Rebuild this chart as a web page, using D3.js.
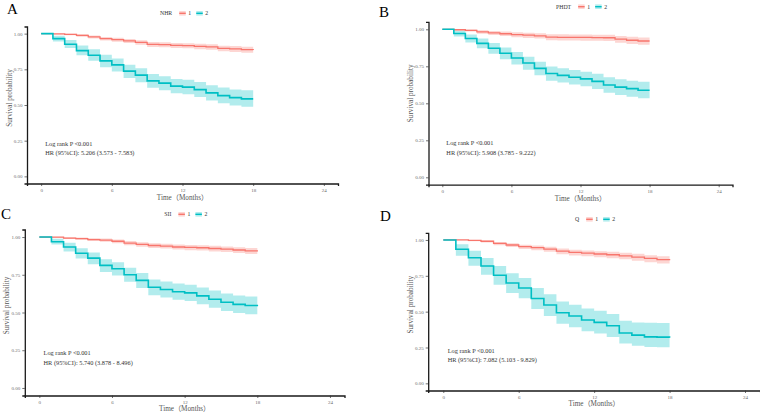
<!DOCTYPE html>
<html><head><meta charset="utf-8">
<script src="https://cdn.jsdelivr.net/npm/d3@7/dist/d3.min.js"></script>
<style>
html,body{margin:0;padding:0;background:#fff;}
svg{display:block;}
</style></head>
<body>
<svg id="chart" width="760" height="413"></svg>
<script>
// ---------------- DATA ----------------
const months = [0,1,2,3,4,5,6,7,8,9,10,11,12,13,14,15,16,17,18];
const xTicks = [0,6,12,18,24];
const yTicks = [0,0.25,0.5,0.75,1];
const yTickLabels = ["0.00","0.25","0.50","0.75","1.00"];
const panelLetters = ["A","B","C","D"];
const groupNames = ["NHR","PHDT","SII","Q"];
const strataLabels = ["1","2"];
const logRankTexts = ["Log rank P <0.001","Log rank P <0.001","Log rank P <0.001","Log rank P <0.001"];
const hrTexts = [
  "HR (95%CI): 5.206 (3.573 - 7.583)",
  "HR (95%CI): 5.908 (3.785 - 9.222)",
  "HR (95%CI): 5.740 (3.878 - 8.496)",
  "HR (95%CI): 7.082 (5.103 - 9.829)"
];
const xTitle = "Time（Months）";
const yTitle = "Survival probability";

// Panel A: NHR
const nhrSurv1 = [1,0.998,0.995,0.988,0.977,0.965,0.958,0.949,0.939,0.925,0.923,0.918,0.916,0.911,0.907,0.897,0.893,0.888,0.886];
const nhrUp1   = [1,1.0,0.999,0.995,0.987,0.977,0.971,0.963,0.954,0.941,0.939,0.935,0.933,0.929,0.925,0.916,0.913,0.908,0.907];
const nhrLow1  = [1,0.994,0.989,0.979,0.966,0.952,0.944,0.934,0.922,0.907,0.905,0.899,0.897,0.891,0.887,0.876,0.871,0.866,0.864];
const nhrSurv2 = [1,0.965,0.926,0.881,0.849,0.809,0.781,0.737,0.709,0.669,0.653,0.632,0.625,0.608,0.585,0.566,0.552,0.543,0.543];
const nhrUp2   = [1,0.985,0.955,0.917,0.89,0.852,0.825,0.782,0.757,0.717,0.702,0.683,0.677,0.662,0.638,0.622,0.608,0.603,0.603];
const nhrLow2  = [1,0.945,0.9,0.848,0.81,0.765,0.735,0.69,0.66,0.62,0.604,0.583,0.575,0.556,0.532,0.512,0.497,0.488,0.488];

// Panel B: PHDT
const phdtSurv1 = [1,0.997,0.993,0.982,0.976,0.970,0.964,0.960,0.956,0.947,0.946,0.945,0.945,0.944,0.943,0.933,0.926,0.921,0.921];
const phdtUp1   = [1,1,0.999,0.993,0.989,0.985,0.98,0.977,0.974,0.966,0.966,0.965,0.965,0.964,0.963,0.955,0.949,0.945,0.945];
const phdtLow1  = [1,0.992,0.985,0.97,0.962,0.954,0.947,0.942,0.937,0.926,0.925,0.924,0.923,0.922,0.921,0.909,0.901,0.895,0.895];
const phdtSurv2 = [1,0.972,0.938,0.905,0.872,0.838,0.806,0.772,0.736,0.701,0.689,0.676,0.665,0.648,0.624,0.609,0.599,0.588,0.588];
const phdtUp2   = [1,0.99,0.965,0.937,0.908,0.877,0.847,0.815,0.781,0.748,0.737,0.725,0.714,0.699,0.676,0.662,0.653,0.645,0.645];
const phdtLow2  = [1,0.952,0.91,0.872,0.835,0.797,0.763,0.727,0.69,0.653,0.641,0.627,0.615,0.597,0.572,0.556,0.545,0.534,0.534];

// Panel C: SII
const siiSurv1 = [1,0.999,0.993,0.990,0.983,0.980,0.972,0.960,0.951,0.944,0.940,0.934,0.931,0.929,0.924,0.920,0.914,0.909,0.905];
const siiUp1   = [1,1,0.998,0.997,0.992,0.99,0.984,0.973,0.965,0.959,0.956,0.95,0.948,0.946,0.942,0.938,0.933,0.928,0.925];
const siiLow1  = [1,0.996,0.987,0.982,0.973,0.969,0.959,0.946,0.936,0.928,0.924,0.917,0.913,0.911,0.905,0.901,0.894,0.888,0.884];
const siiSurv2 = [1,0.969,0.934,0.893,0.860,0.812,0.790,0.750,0.713,0.667,0.652,0.638,0.630,0.610,0.588,0.568,0.554,0.546,0.541];
const siiUp2   = [1,0.988,0.962,0.926,0.897,0.853,0.833,0.796,0.762,0.718,0.705,0.692,0.684,0.666,0.645,0.626,0.613,0.606,0.606];
const siiLow2  = [1,0.95,0.905,0.858,0.82,0.768,0.745,0.703,0.663,0.615,0.6,0.585,0.576,0.554,0.531,0.51,0.496,0.488,0.488];

// Panel D: Q
const qSurv1 = [1,1,0.997,0.991,0.976,0.965,0.953,0.946,0.936,0.922,0.913,0.908,0.902,0.897,0.889,0.881,0.871,0.863,0.858];
const qUp1   = [1,1,1,0.997,0.986,0.977,0.967,0.961,0.952,0.94,0.932,0.927,0.922,0.918,0.91,0.903,0.894,0.886,0.881];
const qLow1  = [1,0.998,0.991,0.982,0.964,0.951,0.937,0.929,0.917,0.901,0.891,0.886,0.879,0.873,0.865,0.855,0.845,0.836,0.83];
const qSurv2 = [1,0.935,0.876,0.818,0.754,0.700,0.665,0.592,0.546,0.492,0.470,0.442,0.425,0.402,0.351,0.336,0.324,0.322,0.318];
const qUp2   = [1,0.97,0.925,0.875,0.818,0.768,0.735,0.665,0.622,0.57,0.549,0.522,0.506,0.484,0.436,0.424,0.422,0.42,0.42];
const qLow2  = [1,0.89,0.82,0.757,0.688,0.63,0.593,0.518,0.47,0.415,0.392,0.364,0.347,0.323,0.277,0.263,0.254,0.252,0.252];

const panelSeries = [
  [[nhrSurv1,nhrLow1,nhrUp1],[nhrSurv2,nhrLow2,nhrUp2]],
  [[phdtSurv1,phdtLow1,phdtUp1],[phdtSurv2,phdtLow2,phdtUp2]],
  [[siiSurv1,siiLow1,siiUp1],[siiSurv2,siiLow2,siiUp2]],
  [[qSurv1,qLow1,qUp1],[qSurv2,qLow2,qUp2]]
];

// ---------------- LAYOUT / STYLE ----------------
const colors = ["#F8766D","#00BFC4"];
const lineW = [1.3,1.6];
const layout = [
  {l:27,   r:338,   t:26.5, b:183.5, letter:[7,13.5],   legend:[160,13.3], yTitleX:9,   yTitleDy:-7, xTitleY:197},
  {l:428.5,r:732.5, t:21.9, b:184.7, letter:[379,16.5], legend:[556,6.7],  yTitleX:410, yTitleDy:-10, xTitleY:198},
  {l:24.8, r:344.5, t:229.5,b:395.5, letter:[1,219],    legend:[164.3,214.3], yTitleX:6, yTitleDy:-7, xTitleY:408.7},
  {l:428.2,r:760.1, t:232.8,b:390.5, letter:[380,221],  legend:[575,219.3], yTitleX:410, yTitleDy:-7, xTitleY:403.7}
];
const serif = "'Liberation Serif','Noto Sans CJK SC',serif";

const svg = d3.select("#chart");

layout.forEach((L,pi)=>{
  const g = svg.append("g");
  const x = d3.scaleLinear().domain([-1.2,25.2]).range([L.l,L.r]);
  const y = d3.scaleLinear().domain([-0.05,1.05]).range([L.b,L.t]);

  const series = panelSeries[pi];
  // bands
  series.forEach((s,si)=>{
    const pts = months.map((m,i)=>({m, s:s[0][i], lo:s[1][i], hi:s[2][i]}));
    g.append("path")
      .attr("d", d3.area().curve(d3.curveStepAfter).x(d=>x(d.m)).y0(d=>y(d.lo)).y1(d=>y(d.hi))(pts))
      .attr("fill", colors[si]).attr("fill-opacity",0.3).attr("stroke","none");
  });
  series.forEach((s,si)=>{
    const pts = months.map((m,i)=>({m, s:s[0][i]}));
    g.append("path")
      .attr("d", d3.line().curve(d3.curveStepAfter).x(d=>x(d.m)).y(d=>y(d.s))(pts))
      .attr("fill","none").attr("stroke",colors[si]).attr("stroke-width",lineW[si]);
  });

  // axes
  const xAxis = d3.axisBottom(x).tickValues(xTicks).tickSize(2.5).tickPadding(2).tickFormat(d3.format("d"));
  const yAxis = d3.axisLeft(y).tickValues(yTicks).tickSize(2.5).tickPadding(2).tickFormat((d,i)=>yTickLabels[i]);
  const gx = g.append("g").attr("transform",`translate(0,${L.b})`).call(xAxis);
  const gy = g.append("g").attr("transform",`translate(${L.l},0)`).call(yAxis);
  [gx,gy].forEach(a=>{
    a.select(".domain").attr("stroke","#1a1a1a").attr("stroke-width",1.3);
    a.selectAll(".tick line").attr("stroke","#333").attr("stroke-width",0.7);
    a.selectAll(".tick text").attr("fill","#6a6a6a").style("font-family",serif).style("font-size","5px");
  });

  // axis titles
  g.append("text").attr("x",(L.l+L.r)/2).attr("y",L.xTitleY).attr("dy","0.35em")
    .attr("text-anchor","middle").style("font-family",serif).style("font-size","7.2px").attr("fill","#555")
    .text(xTitle);
  g.append("text").attr("transform",`translate(${L.yTitleX},${(L.t+L.b)/2+L.yTitleDy}) rotate(-90)`).attr("dy","0.35em")
    .attr("text-anchor","middle").style("font-family",serif).style("font-size","7.2px").attr("fill","#555")
    .text(yTitle);

  // annotations
  g.append("text").attr("x",x(0.35)).attr("y",y(0.23)).attr("dy","0.35em")
    .style("font-family",serif).style("font-size","6.3px").attr("fill","#333").text(logRankTexts[pi]);
  g.append("text").attr("x",x(0.35)).attr("y",y(0.166)).attr("dy","0.35em")
    .style("font-family",serif).style("font-size","6.3px").attr("fill","#333").text(hrTexts[pi]);

  // panel letter
  svg.append("text").attr("x",L.letter[0]).attr("y",L.letter[1])
    .style("font-family","'Liberation Serif',serif").style("font-size","15px").attr("fill","#000")
    .text(panelLetters[pi]);

  // legend
  const lg = svg.append("g");
  let cx = L.legend[0];
  const cy = L.legend[1];
  const t = lg.append("text").attr("x",cx).attr("y",cy).attr("dy","0.35em")
    .style("font-family",serif).style("font-size","5.8px").attr("fill","#333").text(groupNames[pi]);
  cx += t.node().getComputedTextLength() + 7;
  strataLabels.forEach((lab,si)=>{
    lg.append("rect").attr("x",cx).attr("y",cy-2.3).attr("width",6.5).attr("height",4.6)
      .attr("fill",colors[si]).attr("fill-opacity",0.3);
    lg.append("line").attr("x1",cx).attr("x2",cx+6.5).attr("y1",cy).attr("y2",cy)
      .attr("stroke",colors[si]).attr("stroke-width",1.4);
    cx += 6.5 + 2.6;
    const tt = lg.append("text").attr("x",cx).attr("y",cy).attr("dy","0.35em")
      .style("font-family",serif).style("font-size","5.8px").attr("fill","#333").text(lab);
    cx += tt.node().getComputedTextLength() + 5;
  });
});
</script>
</body></html>
